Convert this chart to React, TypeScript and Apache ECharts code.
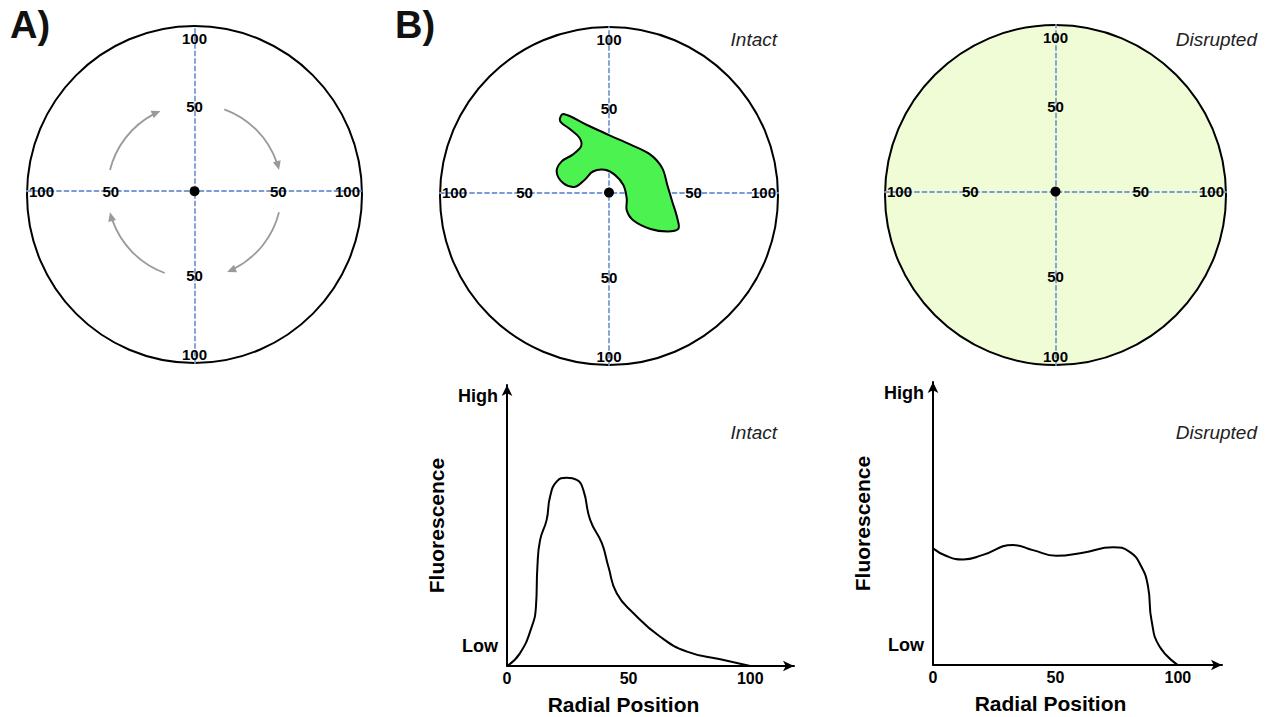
import React, { useEffect, useRef } from "react";
import * as echarts from "echarts";

const FONT = '"Liberation Sans", Arial, Helvetica, sans-serif';

// ---- data ----
const polarMajorTick = 50;
const polarMaxTick = 100;
const circleRadiusValue = 100;
// the hand-drawn crosshair sits slightly above the centre of the outer circle
const circleCenterY = -2;

// rotation arrows in panel A: [start angle, end angle] (degrees, counter-clockwise from +x), drawn clockwise
const rotationArcs: number[][] = [
  [166, 113],
  [70, 14],
  [-14, -68],
  [-110, -166],
];
const rotationArcRadius = 52;

// green fluorescent blob outline (radial coordinates, -100..100)
const blobX = [-27, -13, 0, 12.5, 24.5, 31.5, 34.5, 37.5, 40.5, 41, 34.5, 24.5, 14.5, 10.5, 10.5, 8.5, 3.5, -2.5, -9.5, -14.5, -20, -27, -31, -28, -21.5, -16.5, -17.5, -23, -29];
const blobY = [46.5, 40, 34, 28.5, 22.5, 14.5, 4.5, -5.5, -15.5, -21.5, -23, -21.5, -16.5, -10.5, -3.5, 4.5, 10.5, 13.5, 12.5, 7.5, 3.5, 5.5, 12.5, 18.5, 22.5, 27.5, 32.5, 37.5, 42.5];

// profile curves
const intactX = [0, 5.3, 10.2, 11.9, 12.5, 13.6, 16.3, 17.7, 20.4, 24.6, 28.7, 31.4, 34.2, 39, 41.7, 45.1, 52, 63, 74, 87.7, 100];
const intactY = [0, 4.5, 14, 21.1, 35.3, 44.8, 52, 60.2, 65.6, 67, 66.2, 62.6, 52, 43.7, 35.3, 25.9, 18.8, 10.4, 5.1, 2.4, 0];
const disruptedX = [0, 5.5, 12.3, 20.4, 32.7, 40.8, 50.3, 61.2, 73.5, 80.3, 85.1, 87.8, 89.2, 92.5, 100];
const disruptedY = [41.2, 38.5, 37.3, 38.9, 42.4, 40.6, 38.6, 39.7, 41.6, 40, 34.7, 27.7, 15.9, 6.5, 0];

const radialTicks = [0, 50, 100];
const fluorescenceLevels = ["Low", "High"];
const fluorescenceLevelValues = [7, 96];

// ---- styles ----
const BLUE = "#7b9bd2";
const GRAY = "#9a9a9a";

const circlePanels = [
  { grid: { left: 27, top: 26, width: 335, height: 337 }, fill: "#ffffff", arrows: true, blob: false },
  { grid: { left: 440, top: 27, width: 338, height: 338 }, fill: "#ffffff", arrows: false, blob: true },
  { grid: { left: 885, top: 25, width: 341, height: 340 }, fill: "#f0fcd6", arrows: false, blob: false },
];
const profilePanels = [
  { grid: { left: 507, top: 385, width: 287, height: 281 }, xs: intactX, ys: intactY },
  { grid: { left: 933, top: 382, width: 289, height: 283 }, xs: disruptedX, ys: disruptedY },
];

function buildOption() {
  const grid: any[] = [];
  const xAxis: any[] = [];
  const yAxis: any[] = [];
  const series: any[] = [];

  const yTop = circleCenterY + circleRadiusValue;
  const yBottom = circleCenterY - circleRadiusValue;

  // tick-label anchors on the crosshair: [x, y]
  const tickPts: number[][] = [
    [0, polarMajorTick], [0, -polarMajorTick], [-polarMajorTick, 0], [polarMajorTick, 0],
    [0, yTop], [0, yBottom], [-circleRadiusValue, 0], [circleRadiusValue, 0],
  ];
  const tickText = [polarMajorTick, polarMajorTick, polarMajorTick, polarMajorTick, polarMaxTick, polarMaxTick, polarMaxTick, polarMaxTick].map(String);
  const tickAlign = [
    ["center", "middle", 0, 0], ["center", "middle", 0, 0], ["center", "middle", 0, 0], ["center", "middle", 0, 0],
    ["center", "top", 0, 5], ["center", "bottom", 0, -1], ["left", "middle", 2, 0], ["right", "middle", -2, 0],
  ];

  circlePanels.forEach((p, i) => {
    grid.push(p.grid);
    const ax = {
      gridIndex: i,
      type: "value",
      z: 3,
      axisLine: { show: true, onZero: true, lineStyle: { color: BLUE, width: 1.8, type: [4, 3.5] } },
      axisTick: { show: false },
      axisLabel: { show: false },
      splitLine: { show: false },
    };
    xAxis.push({ ...ax, min: -circleRadiusValue, max: circleRadiusValue });
    yAxis.push({ ...ax, min: yBottom, max: yTop });

    series.push({
      type: "custom",
      xAxisIndex: i,
      yAxisIndex: i,
      z: 1,
      silent: true,
      data: [[0, circleCenterY]],
      renderItem: (_params: any, api: any) => {
        const c = api.coord([api.value(0), api.value(1)]);
        const s = api.size([circleRadiusValue, circleRadiusValue]);
        return {
          type: "ellipse",
          shape: { cx: c[0], cy: c[1], rx: s[0], ry: s[1] },
          style: { fill: p.fill, stroke: "#000", lineWidth: 2 },
        };
      },
    });

    if (p.arrows) {
      series.push({
        type: "custom",
        xAxisIndex: i,
        yAxisIndex: i,
        z: 2,
        silent: true,
        data: rotationArcs,
        renderItem: (_params: any, api: any) => {
          const c = api.coord([0, 0]);
          const r = api.size([rotationArcRadius, 0])[0];
          const a0 = (api.value(0) * Math.PI) / 180;
          const a1 = (api.value(1) * Math.PI) / 180;
          const tip = [c[0] + r * Math.cos(a1), c[1] - r * Math.sin(a1)];
          const d = [Math.sin(a1), Math.cos(a1)];
          const n = [-d[1], d[0]];
          const L = 9;
          const W = 4;
          const base = [tip[0] - d[0] * L, tip[1] - d[1] * L];
          return {
            type: "group",
            children: [
              {
                type: "arc",
                shape: { cx: c[0], cy: c[1], r, startAngle: -a0, endAngle: -a1 - (L - 1) / r, clockwise: true },
                style: { stroke: GRAY, lineWidth: 1.8, fill: "none" },
              },
              {
                type: "polygon",
                shape: {
                  points: [tip, [base[0] + n[0] * W, base[1] + n[1] * W], [base[0] - n[0] * W, base[1] - n[1] * W]],
                },
                style: { fill: GRAY },
              },
            ],
          };
        },
      });
    }

    if (p.blob) {
      series.push({
        type: "custom",
        xAxisIndex: i,
        yAxisIndex: i,
        z: 4,
        silent: true,
        data: [[0, 0]],
        renderItem: (_params: any, api: any) => {
          const pts = blobX.map((x, k) => api.coord([x, blobY[k]]));
          return {
            type: "polygon",
            shape: { points: pts, smooth: 0.35 },
            style: { fill: "#4cf24f", stroke: "#000", lineWidth: 2 },
          };
        },
      });
    }

    // center dot
    series.push({
      type: "scatter",
      xAxisIndex: i,
      yAxisIndex: i,
      z: 6,
      silent: true,
      symbolSize: 10,
      itemStyle: { color: "#000", opacity: 1 },
      data: [[0, 0]],
    });

    // tick labels
    series.push({
      type: "custom",
      xAxisIndex: i,
      yAxisIndex: i,
      z: 7,
      silent: true,
      data: tickPts,
      renderItem: (params: any, api: any) => {
        const k = params.dataIndex;
        const c = api.coord([api.value(0), api.value(1)]);
        const a = tickAlign[k] as any[];
        return {
          type: "text",
          x: c[0] + a[2],
          y: c[1] + a[3],
          style: {
            text: tickText[k],
            fill: "#000",
            font: `bold 15px ${FONT}`,
            align: a[0],
            verticalAlign: a[1],
          },
        };
      },
    });
  });

  profilePanels.forEach((p, j) => {
    const gi = circlePanels.length + j;
    grid.push(p.grid);
    const line = { show: true, symbol: ["none", "arrow"], symbolSize: [8, 11], lineStyle: { color: "#000", width: 2 } };
    xAxis.push({
      gridIndex: gi,
      type: "value",
      min: 0,
      max: 118,
      axisLine: line,
      axisTick: { show: false },
      splitLine: { show: false },
      axisLabel: {
        customValues: radialTicks,
        color: "#000",
        fontSize: 16,
        fontWeight: "bold",
        fontFamily: FONT,
        margin: 4,
      },
      name: "Radial Position",
      nameLocation: "middle",
      nameGap: 28,
      nameTextStyle: { color: "#000", fontSize: 21, fontWeight: "bold", fontFamily: FONT, padding: [0, 54, 0, 0] },
    });
    yAxis.push({
      gridIndex: gi,
      type: "value",
      min: 0,
      max: 100,
      axisLine: line,
      axisTick: { show: false },
      splitLine: { show: false },
      axisLabel: {
        customValues: fluorescenceLevelValues,
        formatter: (v: number) => fluorescenceLevels[fluorescenceLevelValues.indexOf(v)] ?? "",
        color: "#000",
        fontSize: 18,
        fontWeight: "bold",
        fontFamily: FONT,
        margin: 9,
      },
      name: "Fluorescence",
      nameLocation: "middle",
      nameRotate: 90,
      nameGap: 60,
      nameTextStyle: { color: "#000", fontSize: 21, fontWeight: "bold", fontFamily: FONT },
    });
    series.push({
      type: "line",
      xAxisIndex: gi,
      yAxisIndex: gi,
      smooth: true,
      showSymbol: false,
      silent: true,
      lineStyle: { color: "#000", width: 2 },
      data: p.xs.map((x, k) => [x, p.ys[k]]),
    });
  });

  const panelTitle = (text: string, right: number, top: number) => ({
    text,
    right,
    top,
    padding: 0,
    textStyle: { color: "#222", fontSize: 19, fontStyle: "italic", fontWeight: "normal", fontFamily: FONT },
  });

  return {
    animation: false,
    backgroundColor: "#ffffff",
    title: [
      { text: "A)", left: 10, top: 6, padding: 0, textStyle: { color: "#111", fontSize: 38, fontWeight: "bold", fontFamily: FONT } },
      { text: "B)", left: 395, top: 6, padding: 0, textStyle: { color: "#111", fontSize: 38, fontWeight: "bold", fontFamily: FONT } },
      panelTitle("Intact", 493, 30),
      panelTitle("Disrupted", 13, 30),
      panelTitle("Intact", 493, 423),
      panelTitle("Disrupted", 13, 423),
    ],
    grid,
    xAxis,
    yAxis,
    series,
  };
}

export default function App() {
  const ref = useRef<HTMLDivElement>(null);
  useEffect(() => {
    if (!ref.current) return;
    const chart = echarts.init(ref.current, undefined, { renderer: "svg" });
    chart.setOption(buildOption() as any);
    return () => chart.dispose();
  }, []);
  return <div ref={ref} style={{ position: "absolute", left: 0, top: 0, width: 1270, height: 717 }} />;
}
